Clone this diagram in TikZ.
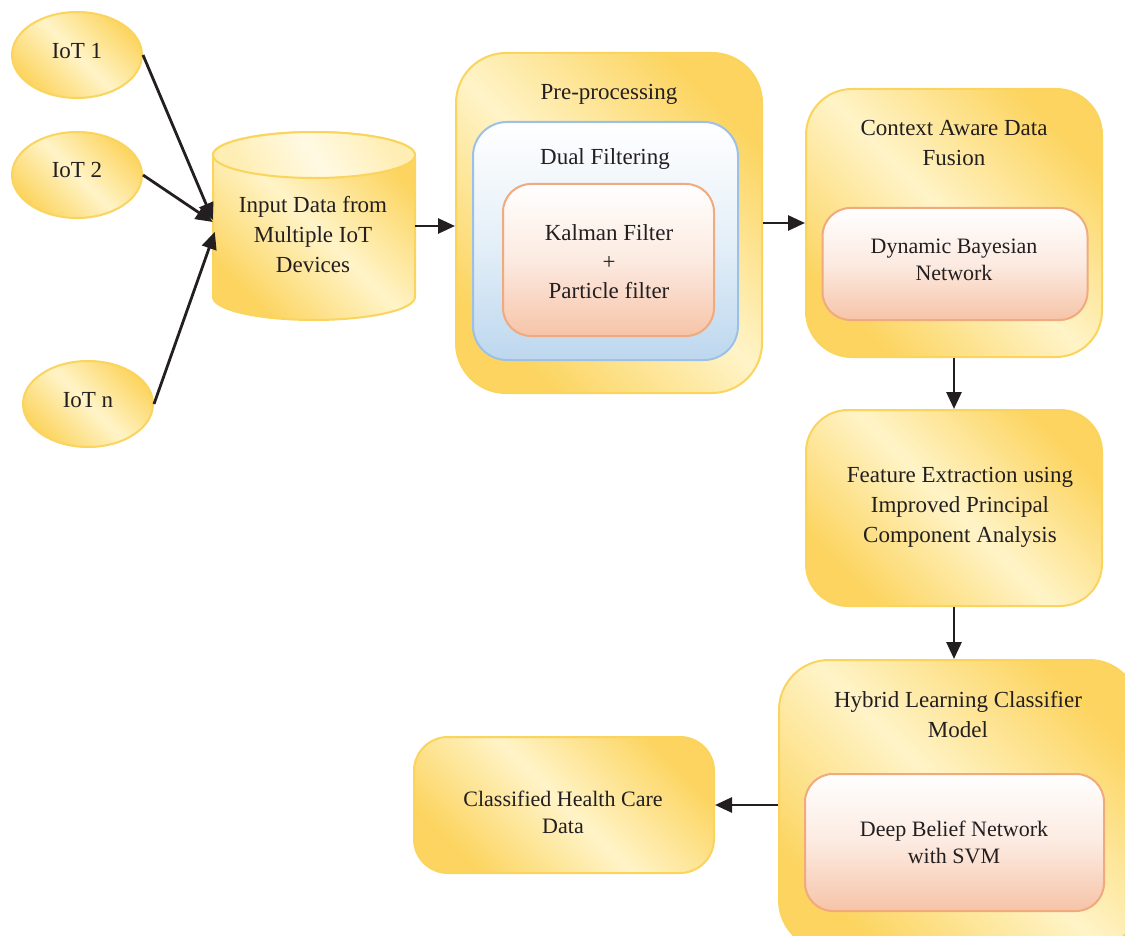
\documentclass[tikz,border=0pt]{standalone}
\usepackage{fontspec}
\setmainfont{Liberation Serif}
\usetikzlibrary{shapes.geometric,arrows.meta}
\definecolor{ydark}{RGB}{252,212,95}
\definecolor{ylight}{RGB}{255,244,200}
\definecolor{yborder}{RGB}{250,212,92}
\definecolor{ofill}{RGB}{246,196,168}
\definecolor{oborder}{RGB}{240,170,125}
\definecolor{bfill}{RGB}{189,215,238}
\definecolor{bborder}{RGB}{155,194,230}
\definecolor{ink}{RGB}{35,31,32}
\tikzset{
  ybox/.style={draw=yborder, line width=2pt, top color=ydark, bottom color=ydark, middle color=ylight, shading angle=-45, inner sep=0pt},
  obox/.style={draw=oborder, line width=2pt, top color=white, bottom color=ofill, middle color=ofill!35, inner sep=0pt, rounded corners=28pt},
  bbox/.style={draw=bborder, line width=2pt, top color=white, bottom color=bfill, middle color=bfill!40, inner sep=0pt, rounded corners=34pt},
  txt/.style={text=ink, align=center, font=\fontsize{23}{30}\selectfont, inner sep=0pt},
  txts/.style={text=ink, align=center, font=\fontsize{22}{27}\selectfont, inner sep=0pt},
  arr/.style={draw=ink, line width=2.8pt, -{Triangle[length=17pt,width=15pt]}},
}
\begin{document}
\begin{tikzpicture}[x=1pt,y=-1pt]
\useasboundingbox (0,0) rectangle (1125,936);
\clip (0,0) rectangle (1125,936);
% IoT ellipses
\node[ybox, ellipse, minimum width=130pt, minimum height=86pt] (iot1) at (77,55) {};
\node[txt] (t1) at (77,51) {IoT 1};
\node[ybox, ellipse, minimum width=130pt, minimum height=86pt] (iot2) at (77,175) {};
\node[txt] (t2) at (77,170) {IoT 2};
\node[ybox, ellipse, minimum width=130pt, minimum height=86pt] (iotn) at (88,404) {};
\node[txt] (tn) at (88,400) {IoT n};
% cylinder
\node[minimum width=202pt, minimum height=188pt, inner sep=0pt] (db) at (314,226) {};
\path[ybox] (213,155) -- (213,297) arc[start angle=180, end angle=360, x radius=101pt, y radius=23pt] -- (415,155) arc[start angle=0, end angle=180, x radius=101pt, y radius=23pt] -- cycle;
\path[draw=yborder, line width=2pt, top color=ylight!80!ydark, bottom color=ylight!80!ydark, middle color=white!50!ylight, shading angle=-60] (314,155) ellipse [x radius=101pt, y radius=23pt];
\node[txt] (tdb) at (313,235) {Input Data from\\Multiple IoT\\Devices};
% pre-processing
\node[ybox, rounded corners=50pt, minimum width=306pt, minimum height=340pt] (pre) at (609,223) {};
\node[txt] (tpre) at (609,94) {Pre-processing};
\node[bbox, minimum width=265pt, minimum height=238pt] (dual) at (605.5,241) {};
\node[txt] (tdual) at (605,159) {Dual Filtering};
\node[obox, minimum width=211pt, minimum height=152pt] (kal) at (608.5,260) {};
\node[txt, font=\fontsize{23}{29}\selectfont] (tkal) at (609,262) {Kalman Filter\\+\\Particle filter};
% context
\node[ybox, rounded corners=46pt, minimum width=296pt, minimum height=268pt] (ctx) at (954,223) {};
\node[txt] (tctx) at (954,143) {Context Aware Data\\Fusion};
\node[obox, minimum width=265pt, minimum height=112pt] (dbn) at (955,264) {};
\node[txts] (tdbn) at (954,260) {Dynamic Bayesian\\Network};
% feature
\node[ybox, rounded corners=42pt, minimum width=296pt, minimum height=196pt] (feat) at (954,508) {};
\node[txt] (tfeat) at (960,507) {Feature Extraction using\\Improved Principal\\Component Analysis};
% hybrid
\node[ybox, rounded corners=50pt, minimum width=360pt, minimum height=290pt] (hyb) at (959,805) {};
\node[txt] (thyb) at (958,715) {Hybrid Learning Classifier\\Model};
\node[obox, minimum width=299pt, minimum height=137pt] (dsvm) at (954.5,842.5) {};
\node[txts] (tdsvm) at (954,842) {Deep Belief Network\\with SVM};
% classified
\node[ybox, rounded corners=34pt, minimum width=300pt, minimum height=136pt] (cls) at (564,805) {};
\node[txts] (tcls) at (563,812) {Classified Health Care\\Data};
% connectors
\draw[arr] (iot1.east) -- ([yshift=6pt]db.west);
\draw[arr] (iot2.east) -- ([yshift=4pt]db.west);
\draw[arr] (iotn.east) -- ([yshift=-6pt,xshift=2pt]db.west);
\draw[arr] (db.east) -- (pre.west |- db.east);
\draw[arr] (pre.east) -- (pre.east -| ctx.west);
\draw[arr] (ctx.south) -- (feat.north);
\draw[arr] (feat.south) -- (feat.south |- hyb.north);
\draw[arr] (cls.east -| hyb.west) -- (cls.east);
\end{tikzpicture}
\end{document}
